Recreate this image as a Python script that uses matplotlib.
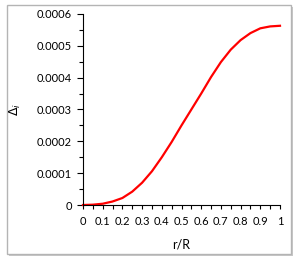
import numpy as np
import matplotlib.pyplot as plt
from matplotlib.patches import Rectangle
from matplotlib.ticker import MultipleLocator, FuncFormatter

plt.rcParams['font.family'] = ['Lato', 'DejaVu Sans']

# values
r_over_R = [0.0, 0.05, 0.1, 0.15, 0.2, 0.25, 0.3, 0.35, 0.4, 0.45, 0.5,
            0.55, 0.6, 0.65, 0.7, 0.75, 0.8, 0.85, 0.9, 0.95, 1.0]
delta_i = [0.0, 0.000001, 0.000004, 0.000011, 0.000022, 0.000042, 0.00007,
           0.000106, 0.00015, 0.000198, 0.00025, 0.0003, 0.00035, 0.000402,
           0.000449, 0.000488, 0.000518, 0.00054, 0.000555, 0.000561, 0.000563]

fig = plt.figure(figsize=(3.0, 2.64), dpi=100)
# chart-area frame with a light shadow
fig.patches.append(Rectangle((9/300, 1 - 256/264), 284/300, 249/264, transform=fig.transFigure,
                             facecolor='#c8c8c8', edgecolor='none', zorder=-2))
fig.patches.append(Rectangle((7/300, 1 - 254/264), 284/300, 249/264, transform=fig.transFigure,
                             facecolor='white', edgecolor='#b4b4b4', linewidth=1, zorder=-1))

ax = fig.add_axes([83/300, 59/264, 197/300, 191/264])
ax.set_zorder(2)
ax.set_facecolor('none')
ax.plot(r_over_R, delta_i, color='#ff0000', linewidth=1.6, clip_on=False)

ax.set_xlim(0, 1)
ax.set_ylim(0, 0.0006)
ax.xaxis.set_major_locator(MultipleLocator(0.1))
ax.xaxis.set_minor_locator(MultipleLocator(0.05))
ax.yaxis.set_major_locator(MultipleLocator(0.0001))
ax.yaxis.set_minor_locator(MultipleLocator(0.00005))
ax.xaxis.set_major_formatter(FuncFormatter(lambda v, p: '0' if abs(v) < 1e-9 else ('1' if abs(v - 1) < 1e-9 else f'{v:.1f}')))
ax.yaxis.set_major_formatter(FuncFormatter(lambda v, p: '0' if abs(v) < 1e-12 else f'{v:.4f}'))

for s in ['top', 'right']:
    ax.spines[s].set_visible(False)
for s in ['left', 'bottom']:
    ax.spines[s].set_color('black')
    ax.spines[s].set_linewidth(0.8)

ax.tick_params(axis='both', which='major', direction='out', length=4, width=0.8, labelsize=8, colors='black', pad=4)
ax.tick_params(axis='both', which='minor', direction='out', length=3, width=0.8)
ax.tick_params(axis='x', which='major', length=3, pad=5)

ax.set_xlabel('r/R', fontsize=9, labelpad=8)
ax.set_ylabel(r'$\Delta_i$', fontsize=9, labelpad=10)

plt.savefig('out.png', dpi=100)
